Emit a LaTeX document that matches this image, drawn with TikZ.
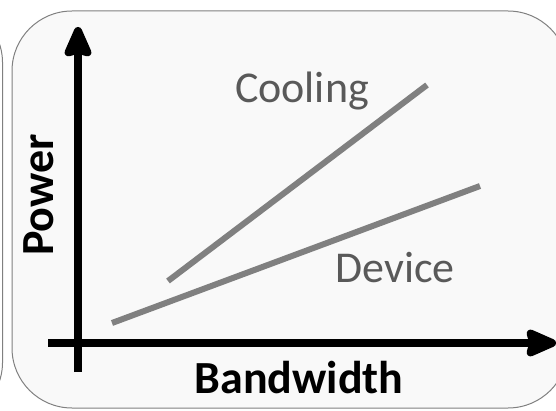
\documentclass[tikz,border=0pt]{standalone}
\usepackage{fontspec}
\setmainfont{Carlito}
\usetikzlibrary{arrows.meta}
\definecolor{pgray}{RGB}{128,128,128}
\definecolor{tgray}{RGB}{89,89,89}
\definecolor{pfill}{RGB}{249,249,249}

\begin{document}
\begin{tikzpicture}[x=1pt,y=-1pt,
    axis/.style={line width=8pt,-{Stealth[length=37pt,width=31pt,inset=4pt,round]}},
    trend/.style={line width=6pt,draw=pgray},
    panel/.style={draw=pgray,line width=1pt},
    axlabel/.style={font=\fontsize{46}{46}\selectfont\bfseries,inner sep=0pt,anchor=base},
    curvelabel/.style={font=\fontsize{44}{44}\selectfont,text=tgray,inner sep=0pt,anchor=base}]
  \useasboundingbox (0,0) rectangle (556,411);
  % panels (the neighbouring one only shows its right edge)
  \begin{scope}
    \clip (0,0) rectangle (556,411);
    \draw[panel,rounded corners=55pt] (-100,7) rectangle (2.5,418);
    \draw[panel,fill=pfill,rounded corners=60pt] (12,11) rectangle (568,408);
  \end{scope}
  % axes
  \coordinate (ybot) at (78,372);
  \coordinate (ytop) at (78,27);
  \coordinate (xleft) at (48,343);
  \coordinate (xright) at (556,343);
  \draw[axis] (ybot)--(ytop);
  \draw[axis] (xleft)--(xright);
  \node[axlabel,rotate=90] (power) at (53,195) {Power};
  \node[axlabel] (bw) at (299,393) {Bandwidth};
  % trends
  \coordinate (c0) at (168,281);
  \coordinate (c1) at (427,85);
  \coordinate (d0) at (112,323);
  \coordinate (d1) at (480,186);
  \draw[trend] (c0)--(c1);
  \draw[trend] (d0)--(d1);
  \node[curvelabel] (cool) at (302,103) {Cooling};
  \node[curvelabel] (dev) at (395,283) {Device};
\end{tikzpicture}
\end{document}
